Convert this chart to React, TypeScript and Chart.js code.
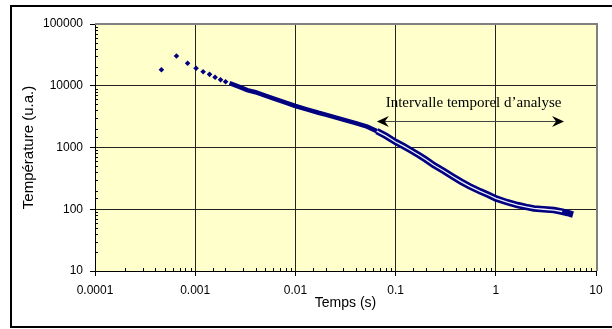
import React, { useEffect, useRef } from "react";
import { Chart, registerables } from "chart.js";

Chart.register(...registerables);

// Isolated early measurements (s, u.a.)
const earlyTimes = [0.00046, 0.00065, 0.00084, 0.00102, 0.0012, 0.00139, 0.00158, 0.00179, 0.00201];
const earlyTemps = [18200, 30300, 23100, 19200, 16900, 15300, 13700, 12500, 11600];

// Dense measurement band, first part
const bandTimes = [0.0022, 0.0028, 0.0033, 0.004, 0.005, 0.006, 0.008, 0.01, 0.013, 0.017, 0.02, 0.024, 0.03, 0.04, 0.052, 0.065];
const bandTemps = [11000, 9500, 8500, 7850, 6930, 6270, 5330, 4700, 4150, 3650, 3400, 3130, 2830, 2480, 2170, 1840];

// Dense measurement band, analysed part
const tailTimes = [0.065, 0.08, 0.1, 0.12, 0.14, 0.17, 0.2, 0.24, 0.3, 0.37, 0.45, 0.55, 0.7, 0.85, 1.0, 1.3, 1.65, 2.0, 2.4, 3.0, 3.8, 4.5, 5.2, 5.9];
const tailTemps = [1840, 1540, 1230, 1050, 910, 755, 640, 520, 420, 340, 280, 235, 195, 170, 150, 130, 117, 109, 103, 100, 97, 92, 87, 82];

// Fitted curve (white) in the analysis interval
const fitTimes = [0.065, 0.08, 0.1, 0.12, 0.14, 0.17, 0.2, 0.24, 0.3, 0.37, 0.45, 0.55, 0.7, 0.85, 1.0, 1.3, 1.65, 2.0, 2.4, 3.0, 3.8, 4.6];
const fitTemps = [1840, 1540, 1230, 1050, 910, 755, 640, 520, 420, 340, 280, 235, 195, 170, 150, 130, 117, 109, 103, 100, 97, 92];

const xTickLabels = ["0.0001", "0.001", "0.01", "0.1", "1", "10"];
const yTickLabels = ["10", "100", "1000", "10000", "100000"];

const annotationText = "Intervalle temporel d\u2019analyse";
const arrowFrom = 0.065;
const arrowTo = 4.8;
const arrowLevel = 2700;
const textTime = 0.6;
const textLevel = 5300;

const NAVY = "#000080";
const SANS = "'Liberation Sans', Arial, sans-serif";

const isDecade = (v: number) => Math.abs(Math.log10(v) - Math.round(Math.log10(v))) < 1e-6;

const pts = (xs: number[], ys: number[]) => xs.map((x, i) => ({ x, y: ys[i] }));

const decorPlugin = {
  id: "decor",
  beforeDraw(chart: any) {
    const { ctx, chartArea: a } = chart;
    ctx.save();
    ctx.fillStyle = "#FFFFFF";
    ctx.fillRect(0, 0, chart.width, chart.height);
    ctx.fillStyle = "#FFFFCC";
    ctx.fillRect(a.left, a.top, a.right - a.left, a.bottom - a.top);
    ctx.restore();
  },
  afterDatasetsDraw(chart: any) {
    const { ctx, chartArea: a, scales } = chart;
    const xs = scales.x;
    const ys = scales.y;
    ctx.save();
    // gray top/right plot edges
    ctx.strokeStyle = "#808080";
    ctx.lineWidth = 2;
    ctx.beginPath();
    ctx.moveTo(a.left, a.top);
    ctx.lineTo(a.right + 1, a.top);
    ctx.lineTo(a.right + 1, a.bottom);
    ctx.stroke();
    // minor ticks inside
    ctx.strokeStyle = "#000";
    ctx.lineWidth = 1;
    ctx.beginPath();
    xs.ticks.forEach((t: any) => {
      if (isDecade(t.value)) return;
      const px = Math.round(xs.getPixelForValue(t.value)) + 0.5;
      ctx.moveTo(px, a.bottom);
      ctx.lineTo(px, a.bottom - 3);
    });
    ys.ticks.forEach((t: any) => {
      if (isDecade(t.value)) return;
      const py = Math.round(ys.getPixelForValue(t.value)) + 0.5;
      ctx.moveTo(a.left, py);
      ctx.lineTo(a.left + 3, py);
    });
    ctx.stroke();

    // annotation arrow
    const x1 = xs.getPixelForValue(arrowFrom);
    const x2 = xs.getPixelForValue(arrowTo);
    const y = Math.round(ys.getPixelForValue(arrowLevel)) + 0.5;
    ctx.strokeStyle = "#444";
    ctx.lineWidth = 1;
    ctx.beginPath();
    ctx.moveTo(x1 + 4, y);
    ctx.lineTo(x2 - 4, y);
    ctx.stroke();
    ctx.fillStyle = "#000";
    const head = (tipX: number, dir: number) => {
      ctx.beginPath();
      ctx.moveTo(tipX, y);
      ctx.lineTo(tipX + dir * 12, y - 5.5);
      ctx.lineTo(tipX + dir * 8, y);
      ctx.lineTo(tipX + dir * 12, y + 5.5);
      ctx.closePath();
      ctx.fill();
    };
    head(x1, 1);
    head(x2, -1);

    ctx.font = "15px 'Liberation Serif', 'Times New Roman', serif";
    ctx.textAlign = "center";
    ctx.textBaseline = "middle";
    ctx.fillStyle = "#000";
    ctx.fillText(annotationText, xs.getPixelForValue(textTime), ys.getPixelForValue(textLevel));

    ctx.restore();
  },
  afterDraw(chart: any) {
    const { ctx } = chart;
    ctx.save();
    ctx.strokeStyle = "#000";
    ctx.lineWidth = 2;
    ctx.strokeRect(11, 6, chart.width + 10, 321);
    ctx.restore();
  },
};

export default function App() {
  const ref = useRef<HTMLCanvasElement | null>(null);
  useEffect(() => {
    if (!ref.current) return;
    const gridColor = (maxV: number) => (c: any) => {
      const v = c.tick?.value;
      if (v == null || !isDecade(v)) return "rgba(0,0,0,0)";
      if (Math.abs(v - maxV) / maxV < 1e-6) return "#808080";
      return "#222";
    };
    const chart = new Chart(ref.current, {
      type: "scatter",
      data: {
        datasets: [
          {
            data: pts(fitTimes, fitTemps),
            showLine: true,
            borderColor: "#EEEEFF",
            borderWidth: 1.3,
            pointRadius: 0,
          } as any,
          {
            data: pts(tailTimes, tailTemps),
            showLine: true,
            borderColor: NAVY,
            borderWidth: 6.5,
            pointRadius: 0,
          },
          {
            data: pts(bandTimes, bandTemps),
            showLine: true,
            borderColor: NAVY,
            borderWidth: 4.5,
            pointRadius: 0,
          },
          {
            data: pts(earlyTimes, earlyTemps),
            showLine: false,
            pointStyle: "rectRot",
            pointRadius: 2.8,
            backgroundColor: NAVY,
            borderColor: NAVY,
            borderWidth: 0,
          },
        ],
      },
      options: {
        animation: false,
        responsive: false,
        layout: { padding: { left: 0, top: 24, right: 16, bottom: 0 } },
        plugins: { legend: { display: false }, tooltip: { enabled: false } },
        scales: {
          x: {
            type: "logarithmic",
            min: 0.0001,
            max: 10,
            afterFit: (s: any) => {
              s.height = 58;
            },
            border: { display: true, color: "#000", width: 1 },
            grid: {
              color: gridColor(10),
              tickColor: (c: any) => (c.tick && isDecade(c.tick.value) ? "#000" : "rgba(0,0,0,0)"),
              tickLength: 5,
              lineWidth: 1,
            },
            ticks: {
              autoSkip: false,
              maxRotation: 0,
              minRotation: 0,
              padding: 7,
              color: "#000",
              font: { family: SANS, size: 12 },
              callback: (v: any) => (isDecade(Number(v)) ? xTickLabels[Math.round(Math.log10(Number(v))) + 4] : ""),
            },
            title: {
              display: true,
              text: "Temps (s)",
              color: "#000",
              font: { family: SANS, size: 14 },
              padding: { top: 0, bottom: 17 },
            },
          },
          y: {
            type: "logarithmic",
            min: 10,
            max: 100000,
            afterFit: (s: any) => {
              s.width = 95;
            },
            border: { display: true, color: "#000", width: 1 },
            grid: {
              color: gridColor(100000),
              tickColor: (c: any) => (c.tick && isDecade(c.tick.value) ? "#000" : "rgba(0,0,0,0)"),
              tickLength: 5,
              lineWidth: 1,
            },
            ticks: {
              autoSkip: false,
              padding: 7,
              color: "#000",
              font: { family: SANS, size: 12 },
              callback: (v: any) => (isDecade(Number(v)) ? yTickLabels[Math.round(Math.log10(Number(v))) - 1] : ""),
            },
            title: {
              display: true,
              text: "Température (u.a.)",
              color: "#000",
              font: { family: SANS, size: 15 },
              padding: { top: 20, bottom: 0 },
            },
          },
        },
      },
      plugins: [decorPlugin],
    } as any);
    return () => chart.destroy();
  }, []);
  return (
    <div style={{ position: "absolute", left: 0, top: 0, width: 612, height: 329 }}>
      <canvas ref={ref} width={612} height={329} style={{ display: "block", width: 612, height: 329 }} />
    </div>
  );
}
